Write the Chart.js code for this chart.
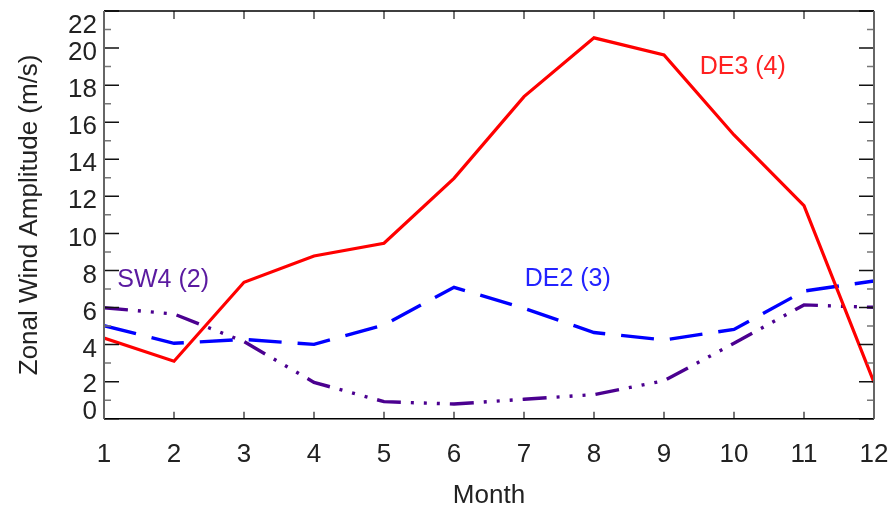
<!DOCTYPE html>
<html>
<head>
<meta charset="utf-8">
<script src="https://cdn.jsdelivr.net/npm/chart.js@4"></script>
<style>
  html, body { margin: 0; padding: 0; background: #fff; }
  #wrap { width: 892px; height: 511px; }
</style>
</head>
<body>
<div id="wrap"><canvas id="amp" width="892" height="511"></canvas></div>
<script>
// ---- data ----
const months = [1, 2, 3, 4, 5, 6, 7, 8, 9, 10, 11, 12];
const de3 = [4.35, 3.1, 7.36, 8.78, 9.47, 12.97, 17.38, 20.55, 19.63, 15.31, 11.5, 1.96];
const de2 = [5.02, 4.07, 4.28, 4.01, 5.06, 7.09, 5.96, 4.65, 4.25, 4.82, 6.89, 7.43];
const sw4 = [5.99, 5.65, 4.16, 1.96, 0.92, 0.79, 1.05, 1.3, 2.05, 4.07, 6.14, 6.01];

const yTicks = [0, 2, 4, 6, 8, 10, 12, 14, 16, 18, 20, 22];

// in-plot labels (data coordinates)
const noteText = ["DE3 (4)", "DE2 (3)", "SW4 (2)"];
const noteX = [9.51, 7.01, 1.19];
const noteY = [18.98, 7.54, 7.49];
const noteColor = ["#ff2020", "#2323ff", "#5a1aa0"];

const FONT = "'Liberation Sans', Arial, Helvetica, sans-serif";
Chart.defaults.font.family = FONT;

const toPts = vals => vals.map((v, i) => ({ x: months[i], y: v }));

// ================= axes box, inside ticks, y labels, notes =================
const frame = {
  id: "frame",
  afterDraw(chart) {
    const { ctx, chartArea: a, scales: { x, y } } = chart;
    ctx.save();

    // x ticks (bottom up, top down)
    ctx.strokeStyle = "#777";
    ctx.lineWidth = 2;
    months.forEach(m => {
      const px = Math.round(x.getPixelForValue(m));
      ctx.beginPath();
      ctx.moveTo(px, a.bottom); ctx.lineTo(px, a.bottom - 7);
      ctx.moveTo(px, a.top); ctx.lineTo(px, a.top + 8);
      ctx.stroke();
    });

    // y ticks, major + minor, both sides
    for (let i = 0; i < yTicks.length; i++) {
      const py = y.getPixelForValue(yTicks[i]);
      ctx.strokeStyle = "#111";
      ctx.lineWidth = 1.5;
      ctx.beginPath();
      ctx.moveTo(a.left, py); ctx.lineTo(a.left + 15, py);
      ctx.moveTo(a.right, py); ctx.lineTo(a.right - 15, py);
      ctx.stroke();
      if (i < yTicks.length - 1) {
        const pm = y.getPixelForValue((yTicks[i] + yTicks[i + 1]) / 2);
        ctx.strokeStyle = "#777";
        ctx.beginPath();
        ctx.moveTo(a.left, pm); ctx.lineTo(a.left + 7, pm);
        ctx.moveTo(a.right, pm); ctx.lineTo(a.right - 7, pm);
        ctx.stroke();
      }
    }

    // box
    ctx.strokeStyle = "#000";
    ctx.lineWidth = 1.5;
    ctx.beginPath();
    ctx.moveTo(a.left, a.top); ctx.lineTo(a.right, a.top);
    ctx.moveTo(a.left, a.bottom); ctx.lineTo(a.right, a.bottom);
    ctx.stroke();
    ctx.strokeStyle = "#666";
    ctx.lineWidth = 2;
    ctx.beginPath();
    ctx.moveTo(a.left, a.top); ctx.lineTo(a.left, a.bottom);
    ctx.moveTo(a.right, a.top); ctx.lineTo(a.right, a.bottom);
    ctx.stroke();

    // y tick labels (end labels pulled inward like the original)
    ctx.font = "26px " + FONT;
    ctx.fillStyle = "#222";
    ctx.textAlign = "right";
    ctx.textBaseline = "middle";
    yTicks.forEach(v => {
      let off = 5;
      if (v === 22) off = 15;
      if (v === 0) off = -7;
      if (v === 2) off = 3;
      ctx.fillText(String(v), 97, y.getPixelForValue(v) + off);
    });

    // series notes
    ctx.font = "25px " + FONT;
    ctx.textAlign = "left";
    noteText.forEach((t, i) => {
      ctx.fillStyle = noteColor[i];
      ctx.fillText(t, x.getPixelForValue(noteX[i]), y.getPixelForValue(noteY[i]));
    });

    ctx.restore();
  }
};

new Chart(document.getElementById("amp"), {
  type: "line",
  data: {
    datasets: [
      {
        label: "DE3 (4)",
        data: toPts(de3),
        borderColor: "#ff0000",
        borderWidth: 3.2
      },
      {
        label: "SW4 (2)",
        data: toPts(sw4),
        borderColor: "#4b0090",
        borderWidth: 3.4,
        borderDash: [24, 10, 3, 10, 3, 10, 3, 10]
      },
      {
        label: "DE2 (3)",
        data: toPts(de2),
        borderColor: "#0000ff",
        borderWidth: 3.4,
        borderDash: [33, 16]
      }
    ]
  },
  options: {
    responsive: false,
    animation: false,
    layout: { padding: { left: 0, top: 11, right: 18, bottom: 0 } },
    elements: { point: { radius: 0 }, line: { tension: 0, borderCapStyle: "butt" } },
    plugins: { legend: { display: false }, tooltip: { enabled: false } },
    scales: {
      x: {
        type: "linear",
        min: 1,
        max: 12,
        border: { display: false },
        grid: { display: false, drawTicks: false },
        ticks: { stepSize: 1, color: "#222", font: { size: 26 }, padding: 21 },
        title: { display: true, text: "Month", color: "#222", font: { size: 26 }, padding: 0 },
        afterFit: s => {
          s.height = 92.3;
          s.paddingLeft = 0;
          s.paddingRight = 0;
        }
      },
      y: {
        min: 0,
        max: 22,
        border: { display: false },
        grid: { display: false, drawTicks: false },
        ticks: { stepSize: 2, display: false },
        title: { display: true, text: "Zonal Wind Amplitude (m/s)", color: "#222", font: { size: 26 }, padding: { top: 14 } },
        afterFit: s => { s.width = 104; }
      }
    }
  },
  plugins: [frame]
});
</script>
</body>
</html>
